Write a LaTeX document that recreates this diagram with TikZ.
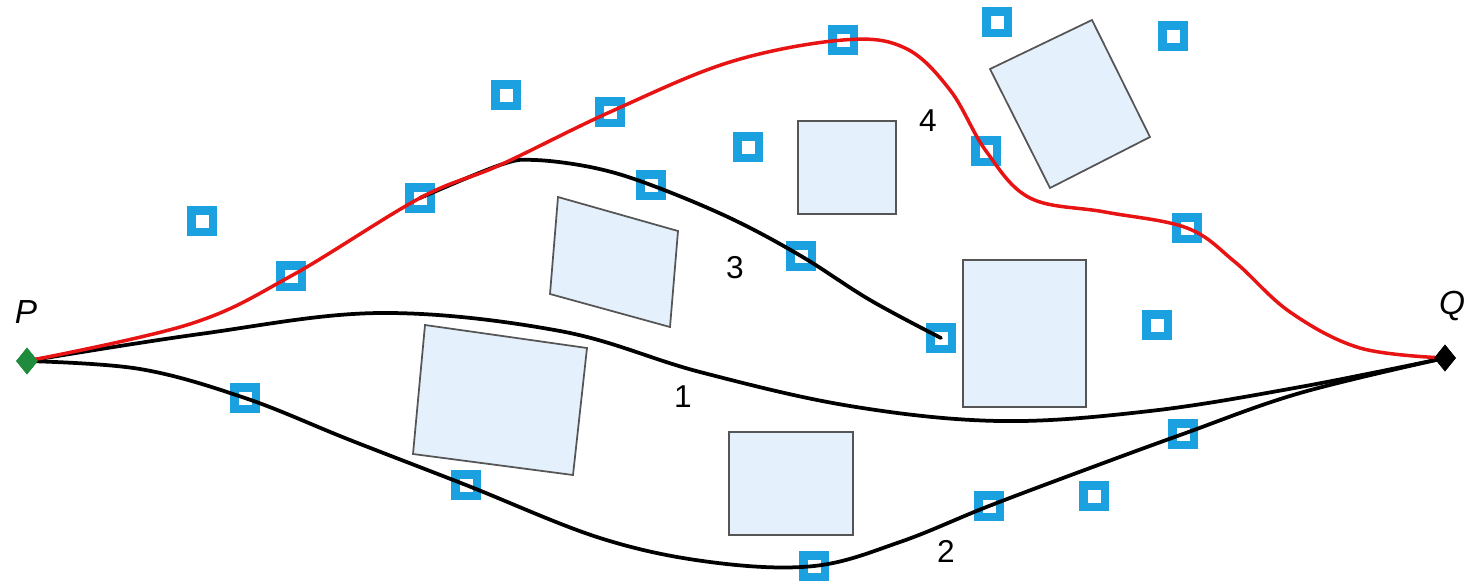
\documentclass[tikz,border=0pt]{standalone}
\usepackage{fontspec}
\setmainfont{Liberation Sans}
\usetikzlibrary{shapes.geometric}
\definecolor{ptblue}{RGB}{27,160,224}
\definecolor{obfill}{RGB}{228,240,251}
\definecolor{obline}{RGB}{85,85,85}
\definecolor{pgreen}{RGB}{30,140,60}
\definecolor{pathred}{RGB}{232,20,20}
\tikzset{
  sample/.style={draw=ptblue, line width=0.17cm, fill=white, minimum size=0.43cm, inner sep=0pt},
  obstacle/.style={fill=obfill, draw=obline, line width=0.035cm, line join=miter},
  route/.style={draw=black, line width=0.075cm, line cap=round},
  redroute/.style={draw=pathred, line width=0.07cm, line cap=round},
  endpt/.style={diamond, inner sep=0pt, minimum width=0.44cm, minimum height=0.54cm},
  lbl/.style={font=\fontsize{18}{20}\selectfont, inner sep=0pt},
  plbl/.style={font=\fontsize{19}{21}\selectfont\itshape, inner sep=0pt}
}
\begin{document}
\begin{tikzpicture}[x=0.02cm, y=-0.02cm]
\useasboundingbox (0,0) rectangle (1472,583);

% obstacles
\draw[obstacle] (425,325) -- (587,348) -- (573,475) -- (413,454) -- cycle;
\draw[obstacle] (558,197) -- (678,231) -- (670,327) -- (550,294) -- cycle;
\draw[obstacle] (798,121) rectangle (896,214);
\draw[obstacle] (1092,20) -- (1150,137) -- (1050,188) -- (990,69) -- cycle;
\draw[obstacle] (963,260) rectangle (1086,407);
\draw[obstacle] (729,432) rectangle (853,535);

% sampled configurations
\foreach \n/\x/\y in {s1/202/221, s2/291/276, s3/420/198, s4/506/95, s5/610/112,
  s6/651/185, s7/748/147, s8/843/40, s9/997/22, s10/1173/36, s11/986/151,
  s12/801/256, s13/1187/228, s14/941/338, s15/1157/325, s16/245/398,
  s17/466/485, s18/814/566, s19/989/506, s20/1094/496, s21/1183/434}
  \node[sample] (\n) at (\x,\y) {};

% start and goal
\node[endpt, fill=pgreen] (P) at (27,361) {};
\node[endpt, fill=black] (Q) at (1445,358) {};
\node[plbl] (Plbl) at (26,312) {P};
\node[plbl] (Qlbl) at (1452,306) {Q};

% route 3 (leaves the red route and ends at a sample)
\draw[route] plot[smooth, tension=0.6] coordinates {(s3.center) (500,165) (535,160) (595,168)
  (s6.center) (730,218) (s12.center) (870,300) (s14.center)};

% route 1
\draw[route] plot[smooth, tension=0.6] coordinates {(P.center) (200,334) (380,313)
  (560,331) (700,372) (850,406) (1000,421) (1150,411) (1300,387) (Q.center)};

% route 2
\draw[route] plot[smooth, tension=0.6] coordinates {(P.center) (140,369) (s16.center)
  (350,440) (s17.center) (600,538) (710,562) (s18.center) (900,542) (s19.center)
  (1090,468) (s21.center) (1300,393) (Q.center)};

% route 4 (red)
\draw[redroute] plot[smooth, tension=0.6] coordinates {(P.center) (190,324) (s2.center)
  (s3.center) (500,165) (s5.center) (730,62) (s8.center) (905,48)
  (950,90) (s11.center) (1030,198) (1105,212) (s13.center)
  (1235,262) (1290,312) (1360,348) (Q.center)};

% redraw end points on top
\node[endpt, fill=pgreen] at (P) {};
\node[endpt, fill=black] at (Q) {};

% route labels
\node[lbl] (l1) at (683,397) {1};
\node[lbl] (l2) at (946,551) {2};
\node[lbl] (l3) at (735,268) {3};
\node[lbl] (l4) at (928,121) {4};
\end{tikzpicture}
\end{document}
